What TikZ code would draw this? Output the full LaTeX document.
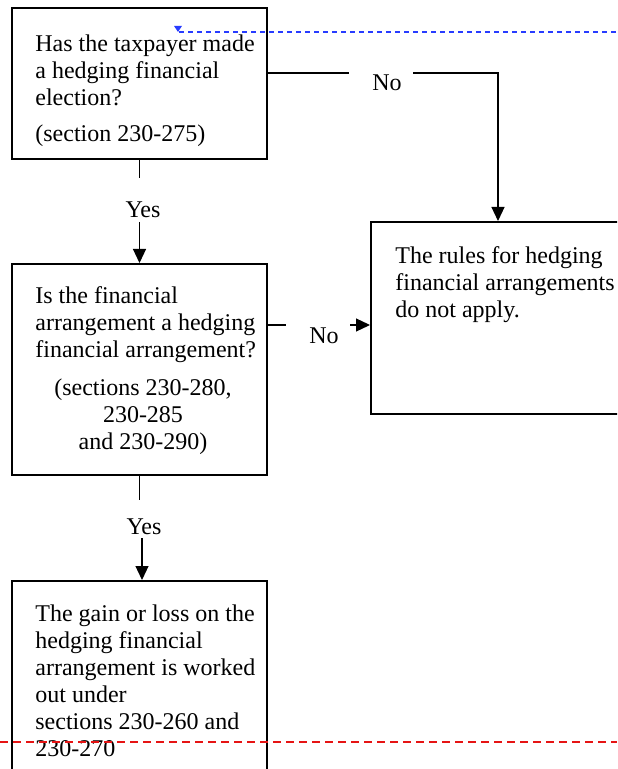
\documentclass[tikz,border=0pt]{standalone}
\usepackage{fontspec}
\setmainfont{Liberation Serif}
\usetikzlibrary{arrows.meta}
\tikzset{>={Triangle[length=7pt,width=6.5pt]}}
\definecolor{myblue}{RGB}{40,60,255}
\definecolor{myred}{RGB}{230,20,20}
\tikzset{
  box/.style={draw,line width=1pt,inner sep=0pt,anchor=north west},
  txt/.style={inner sep=0pt,anchor=north west,align=left,font=\fontsize{12}{13.5}\selectfont},
  lbl/.style={inner sep=0pt,font=\fontsize{12}{13.5}\selectfont},
  conn/.style={line width=0.6pt}
}

\begin{document}
\begin{tikzpicture}[x=0.5pt,y=-0.5pt]

  \clip (0,0) rectangle (617,769);
  \fill[white] (0,0) rectangle (617,769);

  % boxes
  \node[box,minimum width=127.5pt,minimum height=75.5pt]  (q1) at (11,7)   {};
  \node[box,minimum width=127.5pt,minimum height=105.5pt] (q2) at (11,263) {};
  \node[box,minimum width=140pt,minimum height=96pt]      (q3) at (370,221) {};
  \node[box,minimum width=127.5pt,minimum height=110pt]   (q4) at (11,580) {};

  % box texts
  \node[txt] (q1text) at (35,34)
    {Has the taxpayer made\\a hedging financial\\election?\\[4.5pt](section 230-275)};
  \node[txt] (q2text) at (35,286)
    {Is the financial\\arrangement a hedging\\financial arrangement?};
  \node[txt,anchor=north,align=center] (q2ref) at (143,378)
    {(sections 230-280,\\230-285\\and 230-290)};
  \node[txt] (q3text) at (395,246)
    {The rules for hedging\\financial arrangements\\do not apply.};
  \node[txt] (q4text) at (35,604)
    {The gain or loss on the\\hedging financial\\arrangement is worked\\out under\\sections 230-260 and\\230-270};

  % labels
  \node[lbl] (no1)  at (387,83)  {No};
  \node[lbl] (yes1) at (143,210) {Yes};
  \node[lbl] (no2)  at (324,336) {No};
  \node[lbl] (yes2) at (144,527) {Yes};

  % gap ends
  \coordinate (no1a)  at (349,73);
  \coordinate (no1b)  at (413,73);
  \coordinate (no1c)  at (498,73);
  \coordinate (yes1a) at (138,178);
  \coordinate (yes1b) at (138,222);
  \coordinate (no2a)  at (286,325);
  \coordinate (no2b)  at (350,325);
  \coordinate (yes2a) at (138,500);
  \coordinate (yes2b) at (142,538);

  % arrows
  \draw[conn] (q1.east |- no1a) -- (no1a);
  \draw[conn,->] (no1b) -- (no1c) -- (no1c |- q3.north);
  \draw[conn] (q1.south) -- (q1.south |- yes1a);
  \draw[conn,->] (q1.south |- yes1b) -- (q2.north);
  \draw[conn] (q2.east |- no2a) -- (no2a);
  \draw[conn,->] (no2b) -- (no2b -| q3.west);
  \draw[conn] (q2.south) -- (q2.south |- yes2a);
  \draw[conn,->] (yes2b) -- (yes2b |- q4.north);

  % marker lines
  \draw[myblue,line width=0.65pt,dash pattern=on 2.5pt off 2pt]
    (179,32) -- (617,32);
  \fill[myblue] % small marker
    (174,26) -- (182,26) -- (178,32) -- cycle;
  \draw[myred,line width=0.6pt,dash pattern=on 4pt off 2.5pt]
    (0,742) -- (617,742);

\end{tikzpicture}
\end{document}
